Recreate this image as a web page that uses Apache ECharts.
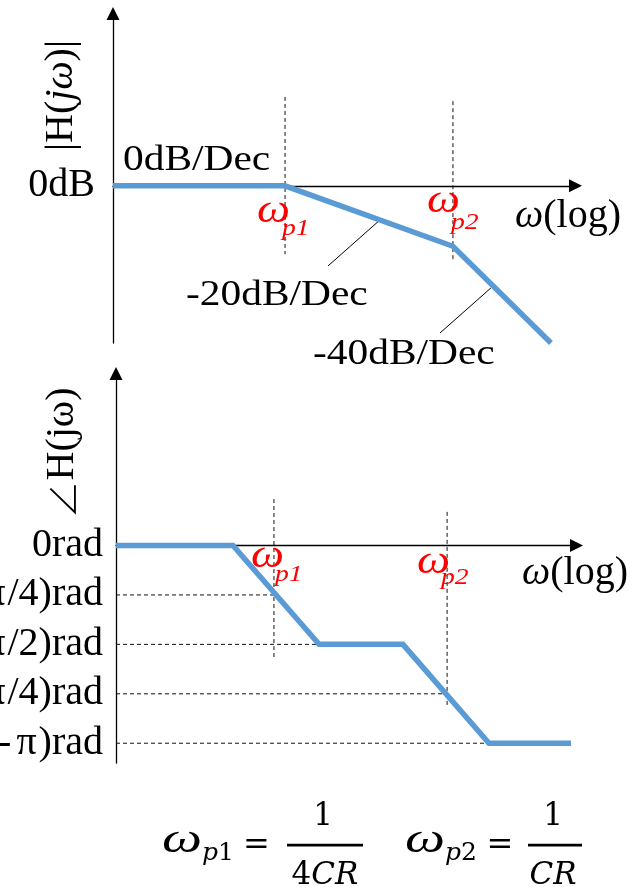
<!DOCTYPE html>
<html><head><meta charset="utf-8">
<script src="https://cdn.jsdelivr.net/npm/echarts@6/dist/echarts.min.js"></script>
<style>html,body{margin:0;padding:0;background:#fff}#c{width:644px;height:887px}</style>
</head><body><div id="c"></div>
<script>
// ---- magnitude plot data (x: position along log-frequency axis, y: dB) ----
const magX = [0, 37.2, 73.5, 94.7];
const magY = [0, 0, -20, -52];
const magTickValues = [0];
const magTickLabels = ['0dB'];
const magPoleX = [37.2, 73.5];
const magPoleTop = [29.4, 28.0];
const magPoleBottom = [-22.6, -24.5];
const leader20 = [[57.5, -11.6], [46.5, -26.5]];
const leader40 = [[81.7, -33.8], [70.7, -48.7]];
const slopeLabels = ['0dB/Dec', '-20dB/Dec', '-40dB/Dec'];

// ---- phase plot data (y in units of π/4 rad) ----
const phaseX = [0, 25.4, 44.1, 62.3, 81.0, 98.8];
const phaseY = [0, 0, -2, -2, -4, -4];
const phaseTickValues = [0, -1, -2, -3, -4];
const phaseTickLabels = ['0rad', '(-π/4)rad', '(-π/2)rad', '(-3π/4)rad', '(-π)rad'];
const phaseGuideLevels = [-1, -2, -3, -4];
const phaseGuideEndX = [34.3, 44.1, 71.9, 81.0];
const phasePoleX = [34.3, 71.9];
const phasePoleTop = [0.94, 0.68];
const phasePoleBottom = [-2.26, -3.23];

const SERIF = 'Liberation Serif';
const MATH = 'DejaVu Serif';
const BLUE = '#5B9BD5';
const RED = '#FF0000';

const chart = echarts.init(document.getElementById('c'), null, {renderer: 'canvas'});

function axisX(gi) {
  return {
    gridIndex: gi, type: 'value', min: 0, max: 100,
    axisLine: {show: true, symbol: ['none', 'triangle'], symbolSize: [13, 13], lineStyle: {color: '#000', width: 1.3}},
    axisTick: {show: false}, axisLabel: {show: false}, splitLine: {show: false}
  };
}
function axisY(gi, min, max, vals, labels, margin) {
  return {
    gridIndex: gi, type: 'value', min: min, max: max,
    axisLine: {show: true, symbol: ['none', 'triangle'], symbolSize: [13, 13], lineStyle: {color: '#000', width: 1.3}},
    axisTick: {show: false}, splitLine: {show: false},
    axisLabel: {
      show: true, customValues: vals, margin: margin, hideOverlap: false,
      fontFamily: SERIF, fontSize: 40, color: '#000',
      formatter: v => labels[vals.indexOf(v)].replace('π', '{p|π}'),
      rich: {p: {fontFamily: SERIF, fontSize: 40, color: '#000', padding: [0, 2, 0, 5]}}
    }
  };
}
function dashed(gi, pts) {
  return {type: 'line', xAxisIndex: gi, yAxisIndex: gi, data: pts, showSymbol: false, silent: true,
    lineStyle: {color: '#111', width: 1, type: [4, 3]}, z: 1};
}
function thin(gi, pts) {
  return {type: 'line', xAxisIndex: gi, yAxisIndex: gi, data: pts, showSymbol: false, silent: true,
    lineStyle: {color: '#000', width: 1}, z: 1};
}

const series = [];
series.push({type: 'line', xAxisIndex: 0, yAxisIndex: 0, data: magX.map((x, i) => [x, magY[i]]),
  showSymbol: false, silent: true, lineStyle: {color: BLUE, width: 5.5, join: 'miter'}, z: 3});
magPoleX.forEach((x, i) => series.push(dashed(0, [[x, magPoleTop[i]], [x, magPoleBottom[i]]])));
series.push(thin(0, leader20));
series.push(thin(0, leader40));

series.push({type: 'line', xAxisIndex: 1, yAxisIndex: 1, data: phaseX.map((x, i) => [x, phaseY[i]]),
  showSymbol: false, silent: true, lineStyle: {color: BLUE, width: 5.5, join: 'miter'}, z: 3});
phaseGuideLevels.forEach((v, i) => series.push(dashed(1, [[0, v], [phaseGuideEndX[i], v]])));
phasePoleX.forEach((x, i) => series.push(dashed(1, [[x, phasePoleTop[i]], [x, phasePoleBottom[i]]])));

// text helper: baseline-positioned text
function T(text, x, baseline, size, o) {
  o = o || {};
  return {
    type: 'text', x: x, y: baseline - 0.34 * size, scaleX: o.scaleX || 1, silent: true, z: 10,
    style: {
      text: text, fontFamily: o.family || SERIF, fontSize: size, fontStyle: o.italic ? 'italic' : 'normal',
      fill: o.color || '#000', align: o.align || 'left', verticalAlign: 'middle', rich: o.rich
    }
  };
}
const italicRich = (size, fam) => ({i: {fontFamily: fam || SERIF, fontSize: size, fontStyle: 'italic'}});
const redW = (x, base) => T('ω', x, base, 39, {italic: true, color: RED, scaleX: 1.2});
const redSub = (t, x, base) => T(t, x, base, 23, {italic: true, color: RED, scaleX: 1.2});

const graphic = [
  // y axis titles (rotated)
  {type: 'text', x: 61, y: 95.5, rotation: Math.PI / 2, silent: true,
   style: {text: '|H({i|jω})|', fontFamily: SERIF, fontSize: 40, fill: '#000', align: 'center', verticalAlign: 'middle', rich: italicRich(40)}},
  {type: 'text', x: 62, y: 453, rotation: Math.PI / 2, silent: true,
   style: {text: '{a|∠}H(jω)', fontFamily: SERIF, fontSize: 40, fill: '#000', align: 'center', verticalAlign: 'middle',
           rich: {a: {fontFamily: 'Noto Sans CJK SC', fontSize: 38, fontWeight: 300}}}},
  // slope labels
  T(slopeLabels[0], 123, 173, 36, {scaleX: 1.15}),
  T(slopeLabels[1], 186, 308, 36, {scaleX: 1.15}),
  T(slopeLabels[2], 313, 367, 36, {scaleX: 1.15}),
  // axis names
  T('{i|ω}(log)', 515, 230, 40, {rich: italicRich(40)}),
  T('{i|ω}(log)', 522, 587, 40, {rich: italicRich(40)}),
  // pole labels (top)
  redW(257, 225), redSub('p1', 282, 237),
  redW(427, 215), redSub('p2', 451, 231),
  // pole labels (bottom)
  redW(251, 570), redSub('p1', 275, 583),
  redW(417, 576), redSub('p2', 441, 586),
  // formulas
  T('ω', 162, 855, 42, {italic: true, scaleX: 1.35}),
  T('{i|p}1', 202, 862, 25, {family: MATH, rich: italicRich(25, MATH)}),
  T('=', 256.5, 857, 32, {family: MATH, align: 'center'}),
  {type: 'rect', shape: {x: 287, y: 843.7, width: 76, height: 2.7}, style: {fill: '#000'}, silent: true},
  T('1', 323, 827, 31, {family: MATH, align: 'center'}),
  T('4{i|CR}', 325, 886, 31, {family: MATH, align: 'center', rich: italicRich(31, MATH)}),
  T('ω', 405, 855, 42, {italic: true, scaleX: 1.35}),
  T('{i|p}2', 445, 862, 25, {family: MATH, rich: italicRich(25, MATH)}),
  T('=', 500, 857, 32, {family: MATH, align: 'center'}),
  {type: 'rect', shape: {x: 528, y: 843.7, width: 54, height: 2.7}, style: {fill: '#000'}, silent: true},
  T('1', 553, 827, 31, {family: MATH, align: 'center'}),
  T('{i|CR}', 553, 886, 31, {family: MATH, align: 'center', rich: italicRich(31, MATH)})
];

chart.setOption({
  animation: false,
  backgroundColor: '#fff',
  grid: [
    {left: 113, top: 13.5, width: 462.5, height: 329.5, containLabel: false, outerBoundsMode: 'none'},
    {left: 116, top: 373.5, width: 460.5, height: 389.5, containLabel: false, outerBoundsMode: 'none'}
  ],
  xAxis: [axisX(0), axisX(1)],
  yAxis: [
    axisY(0, -52, 57, magTickValues, magTickLabels, 18),
    axisY(1, -4.4, 3.48, phaseTickValues, phaseTickLabels, 13)
  ],
  series: series,
  graphic: graphic
});
</script></body></html>
